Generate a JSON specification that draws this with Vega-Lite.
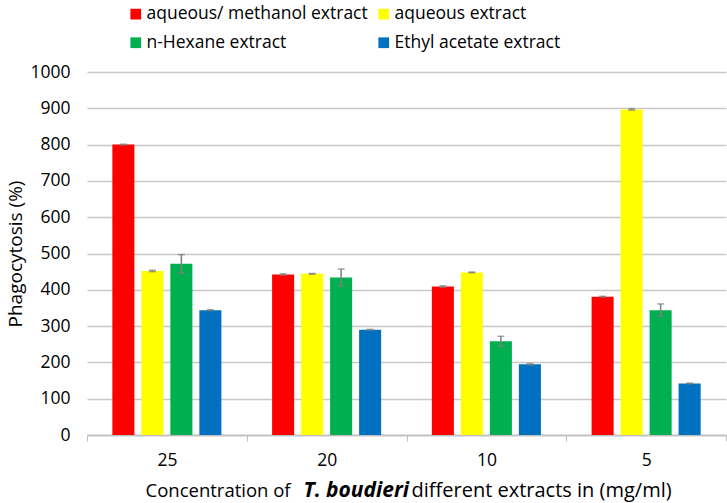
{
  "$schema": "https://vega.github.io/schema/vega-lite/v6.json",
  "width": 639,
  "height": 363,
  "autosize": {"type": "none"},
  "padding": {"left": 87, "top": 72, "right": 1, "bottom": 68},
  "background": "white",
  "config": {
    "font": "Open Sans",
    "view": {"stroke": null},
    "axis": {"labelColor": "#000000", "titleColor": "#000000", "labelFont": "Open Sans", "titleFont": "Open Sans"},
    "axisY": {
      "titleFontSize": 19,
      "titleFontWeight": "normal",
      "titlePadding": 4,
      "values": [0, 100, 200, 300, 400, 500, 600, 700, 800, 900, 1000],
      "format": "d",
      "labelFontSize": 17.5,
      "labelPadding": 17,
      "ticks": false,
      "domain": false,
      "gridColor": "#c8c8c8",
      "gridWidth": 1.5
    }
  },
  "data": {
    "values": [
      {"conc": "25", "extract": "aqueous/ methanol extract", "value": 800, "lo": 799, "hi": 801},
      {"conc": "25", "extract": "aqueous extract", "value": 452, "lo": 450, "hi": 454},
      {"conc": "25", "extract": "n-Hexane extract", "value": 472, "lo": 447, "hi": 497},
      {"conc": "25", "extract": "Ethyl acetate extract", "value": 344, "lo": 343, "hi": 345},
      {"conc": "20", "extract": "aqueous/ methanol extract", "value": 442, "lo": 440, "hi": 444},
      {"conc": "20", "extract": "aqueous extract", "value": 444, "lo": 443, "hi": 445},
      {"conc": "20", "extract": "n-Hexane extract", "value": 434, "lo": 411, "hi": 457},
      {"conc": "20", "extract": "Ethyl acetate extract", "value": 290, "lo": 289, "hi": 291},
      {"conc": "10", "extract": "aqueous/ methanol extract", "value": 409, "lo": 407, "hi": 411},
      {"conc": "10", "extract": "aqueous extract", "value": 448, "lo": 447, "hi": 449},
      {"conc": "10", "extract": "n-Hexane extract", "value": 258, "lo": 244, "hi": 272},
      {"conc": "10", "extract": "Ethyl acetate extract", "value": 195, "lo": 193, "hi": 197},
      {"conc": "5", "extract": "aqueous/ methanol extract", "value": 381, "lo": 380, "hi": 382},
      {"conc": "5", "extract": "aqueous extract", "value": 897, "lo": 895, "hi": 899},
      {"conc": "5", "extract": "n-Hexane extract", "value": 344, "lo": 327, "hi": 361},
      {"conc": "5", "extract": "Ethyl acetate extract", "value": 142, "lo": 141, "hi": 143}
    ]
  },
  "encoding": {
    "x": {
      "field": "conc",
      "type": "nominal",
      "sort": ["25", "20", "10", "5"],
      "scale": {"paddingInner": 0, "paddingOuter": 0}
    },
    "xOffset": {
      "field": "extract",
      "type": "nominal",
      "sort": ["aqueous/ methanol extract", "aqueous extract", "n-Hexane extract", "Ethyl acetate extract"],
      "scale": {"paddingInner": 0.24, "paddingOuter": 0.874}
    }
  },
  "layer": [
    {
      "mark": {"type": "bar"},
      "encoding": {
        "x": {
          "field": "conc",
          "type": "nominal",
          "sort": ["25", "20", "10", "5"],
          "scale": {"paddingInner": 0, "paddingOuter": 0},
          "axis": {
            "orient": "bottom",
            "title": "Concentration of",
            "titleFontSize": 18.5,
            "titleFontWeight": "normal",
            "titleAnchor": null,
            "titleAlign": "left",
            "titleBaseline": "alphabetic",
            "titleX": 58,
            "titleY": 61,
            "labelAngle": 0,
            "labelFontSize": 17.5,
            "labelPadding": 10,
            "tickBand": "extent",
            "tickSize": 6,
            "tickColor": "#bfbfbf",
            "domainColor": "#bfbfbf",
            "domainWidth": 1.5,
            "grid": false
          }
        },
        "y": {
          "field": "value",
          "type": "quantitative",
          "scale": {"domain": [0, 1000], "nice": false},
          "title": "Phagocytosis (%)"
        },
        "color": {
          "field": "extract",
          "type": "nominal",
          "scale": {
            "domain": ["aqueous/ methanol extract", "n-Hexane extract", "aqueous extract", "Ethyl acetate extract"],
            "range": ["#ff0000", "#00b050", "#ffff00", "#0070c0"]
          },
          "legend": {
            "title": null,
            "orient": "none",
            "legendX": 40,
            "legendY": -67,
            "columns": 2,
            "columnPadding": 7,
            "rowPadding": 10,
            "symbolType": "square",
            "symbolSize": 115,
            "symbolStrokeWidth": 0,
            "symbolOpacity": 1,
            "labelFontSize": 17.5,
            "labelFont": "Open Sans",
            "labelColor": "#000000",
            "labelOffset": 2,
            "labelLimit": 400
          }
        }
      }
    },
    {
      "mark": {"type": "rule", "color": "#7f7f7f", "strokeWidth": 1.5},
      "encoding": {
        "x": {"field": "conc", "type": "nominal", "sort": ["25", "20", "10", "5"], "axis": null},
        "y": {"field": "lo", "type": "quantitative", "title": "Phagocytosis (%)"},
        "y2": {"field": "hi"}
      }
    },
    {
      "mark": {"type": "tick", "color": "#7f7f7f", "size": 7, "thickness": 1.5},
      "encoding": {
        "x": {
          "field": "conc",
          "type": "nominal",
          "sort": ["25", "20", "10", "5"],
          "axis": {
            "orient": "bottom",
            "title": "T. boudieri",
            "titleFontSize": 21,
            "titleFontWeight": "bold",
            "titleFontStyle": "italic",
            "titleAnchor": null,
            "titleAlign": "left",
            "titleBaseline": "alphabetic",
            "titleX": 216,
            "titleY": 61,
            "labels": false,
            "ticks": false,
            "domain": false,
            "grid": false
          }
        },
        "y": {"field": "lo", "type": "quantitative", "title": "Phagocytosis (%)"}
      }
    },
    {
      "mark": {"type": "tick", "color": "#7f7f7f", "size": 7, "thickness": 1.5},
      "encoding": {
        "x": {
          "field": "conc",
          "type": "nominal",
          "sort": ["25", "20", "10", "5"],
          "axis": {
            "orient": "bottom",
            "title": "different extracts in (mg/ml)",
            "titleFontSize": 20,
            "titleFontWeight": "normal",
            "titleAnchor": null,
            "titleAlign": "left",
            "titleBaseline": "alphabetic",
            "titleX": 324,
            "titleY": 61,
            "labels": false,
            "ticks": false,
            "domain": false,
            "grid": false
          }
        },
        "y": {"field": "hi", "type": "quantitative", "title": "Phagocytosis (%)"}
      }
    }
  ],
  "resolve": {"axis": {"x": "independent"}}
}
